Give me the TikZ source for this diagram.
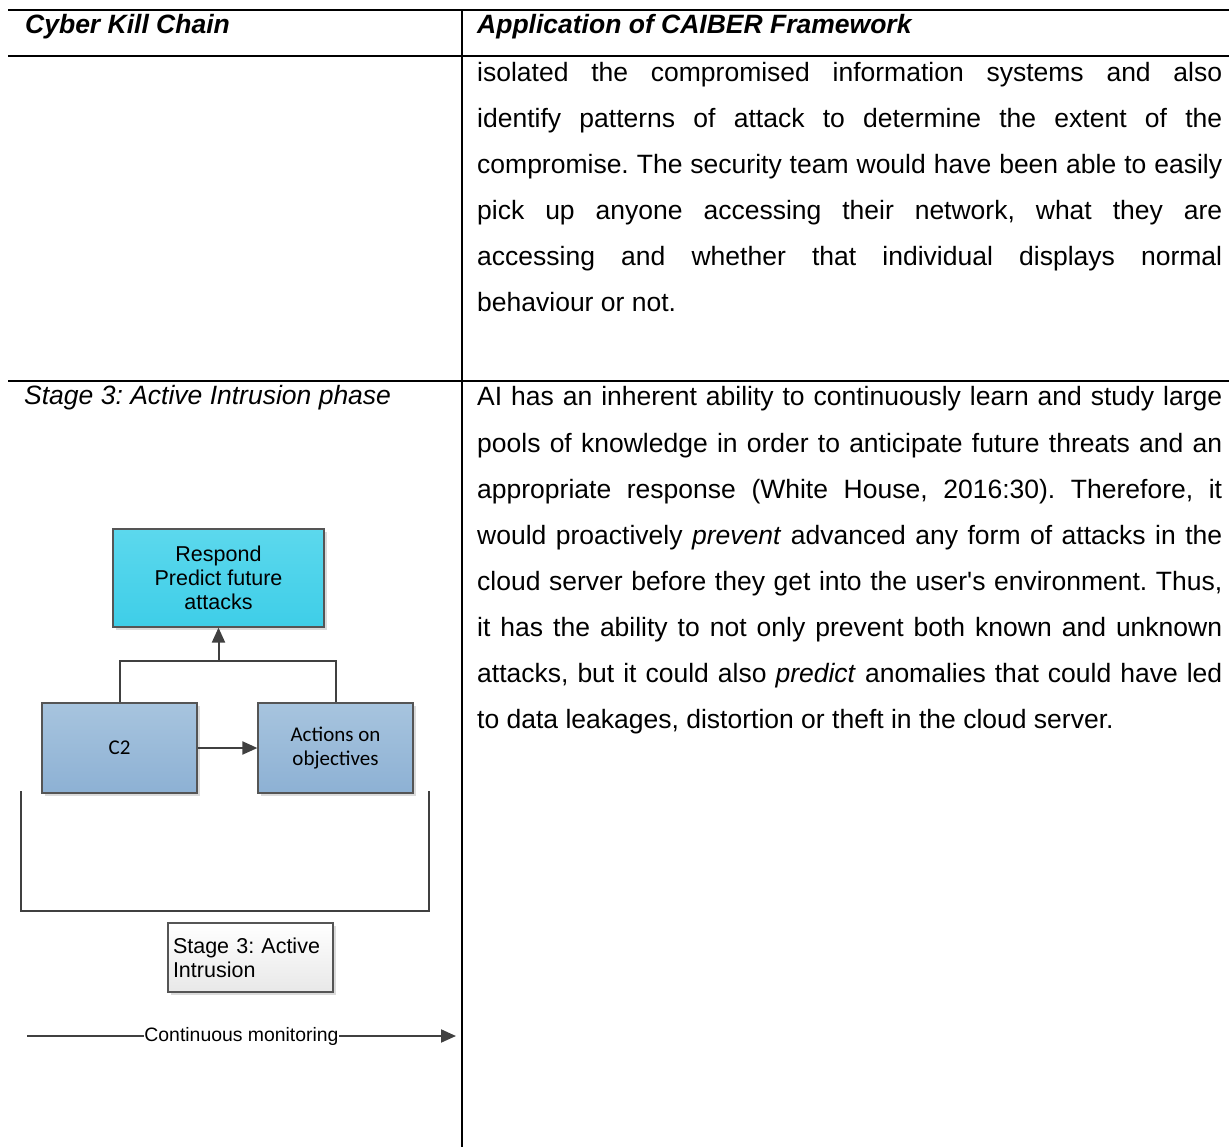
\documentclass[tikz,border=0pt]{standalone}
\usepackage{fontspec}
\setmainfont{Liberation Sans}
\newfontfamily\calib{Carlito}
\usetikzlibrary{arrows.meta,shadows}
\frenchspacing

\definecolor{linegray}{RGB}{64,64,64}
\definecolor{boxedge}{RGB}{85,85,85}
\definecolor{cyantop}{RGB}{92,216,237}
\definecolor{cyanbot}{RGB}{62,206,232}
\definecolor{steeltop}{RGB}{167,196,222}
\definecolor{steelbot}{RGB}{141,177,212}
\definecolor{paperbot}{RGB}{232,232,232}

\newcommand{\bodyfont}{\fontsize{26.5}{46}\selectfont}
\newcommand{\boxfont}{\fontsize{21.5}{24}\selectfont}

\tikzset{
  rule/.style={line width=2pt, black},
  bodyline/.style={anchor=base west, inner sep=0pt, font=\bodyfont},
  headline/.style={anchor=base west, inner sep=0pt, font=\bodyfont\bfseries\itshape},
  flowbox/.style={draw=boxedge, line width=1.2pt, inner sep=0pt, align=center,
    drop shadow={shadow xshift=2.5pt, shadow yshift=-2.5pt, fill=black!14, opacity=1}},
  respondbox/.style={flowbox, top color=cyantop, bottom color=cyanbot,
    minimum width=211pt, minimum height=98pt, font=\boxfont},
  stepbox/.style={flowbox, top color=steeltop, bottom color=steelbot,
    minimum width=155pt, minimum height=90pt, font=\calib\fontsize{21}{24}\selectfont},
  notebox/.style={flowbox, top color=white, bottom color=paperbot,
    minimum width=165pt, minimum height=69pt, text width=155pt, align=left, font=\boxfont},
  link/.style={draw=linegray, line width=2pt,
    -{Triangle[length=15pt, width=13pt]}},
  plainlink/.style={draw=linegray, line width=2pt},
}

\begin{document}
\begin{tikzpicture}[x=1pt, y=-1pt]
\useasboundingbox (0,0) rectangle (1229,1147);

% table rules
\draw[rule] (8,10) -- (1229,10);
\draw[rule] (8,56) -- (1229,56);
\draw[rule] (8,381) -- (1229,381);
\draw[rule] (462,10) -- (462,1147);

% header row
\node[headline] (h1) at (25,34) {Cyber Kill Chain};
\node[headline] (h2) at (477,34) {Application of CAIBER Framework};

% first body row, right column
\node[bodyline] (a1) at (477,82)  {\makebox[745pt][s]{isolated the compromised information systems and also}};
\node[bodyline] (a2) at (477,128) {\makebox[745pt][s]{identify patterns of attack to determine the extent of the}};
\node[bodyline] (a3) at (477,174) {\makebox[745pt][s]{compromise. The security team would have been able to easily}};
\node[bodyline] (a4) at (477,220) {\makebox[745pt][s]{pick up anyone accessing their network, what they are}};
\node[bodyline] (a5) at (477,266) {\makebox[745pt][s]{accessing and whether that individual displays normal}};
\node[bodyline] (a6) at (477,312) {behaviour or not.};

% second body row, left column title
\node[bodyline, font=\bodyfont\itshape] (s3) at (24,405) {Stage 3: Active Intrusion phase};

% second body row, right column
\node[bodyline] (b1) at (477,406) {\makebox[745pt][s]{AI has an inherent ability to continuously learn and study large}};
\node[bodyline] (b2) at (477,452) {\makebox[745pt][s]{pools of knowledge in order to anticipate future threats and an}};
\node[bodyline] (b3) at (477,498) {\makebox[745pt][s]{appropriate response (White House, 2016:30). Therefore, it}};
\node[bodyline] (b4) at (477,544) {\makebox[745pt][s]{would proactively \textit{prevent} advanced any form of attacks in the}};
\node[bodyline] (b5) at (477,590) {\makebox[745pt][s]{cloud server before they get into the user\textquotesingle s environment. Thus,}};
\node[bodyline] (b6) at (477,636) {\makebox[745pt][s]{it has the ability to not only prevent both known and unknown}};
\node[bodyline] (b7) at (477,682) {\makebox[745pt][s]{attacks, but it could also \textit{predict} anomalies that could have led}};
\node[bodyline] (b8) at (477,728) {to data leakages, distortion or theft in the cloud server.};

% stage 3 flow
\node[respondbox] (respond) at (218.5,578) {Respond\\Predict future\\attacks};
\node[stepbox] (c2) at (119.5,748) {C2};
\node[stepbox] (act) at (335.5,748) {Actions on\\objectives};

\coordinate (fork) at (218.5,661);
\draw[plainlink] (c2.north) |- (fork) -| (act.north);
\draw[link] (fork) -- (respond.south);
\draw[link] (c2.east) -- (act.west);

% bracket grouping the stage
\coordinate (brL) at (21,791);
\coordinate (brB) at (429,911);
\coordinate (brR) at (429,791);
\draw[plainlink] (brL) |- (brB) -- (brR);

\node[notebox] (note) at (250.5,957.5) {Stage 3: Active\\Intrusion};

% monitoring arrow
\coordinate (cmL) at (27,1036);
\coordinate (cmR) at (456,1036);
\draw[link] (cmL) -- (cmR)
  node[pos=0.5, fill=white, inner sep=0.5pt, font=\fontsize{19.4}{22}\selectfont] (cm) {Continuous monitoring};
\end{tikzpicture}
\end{document}
